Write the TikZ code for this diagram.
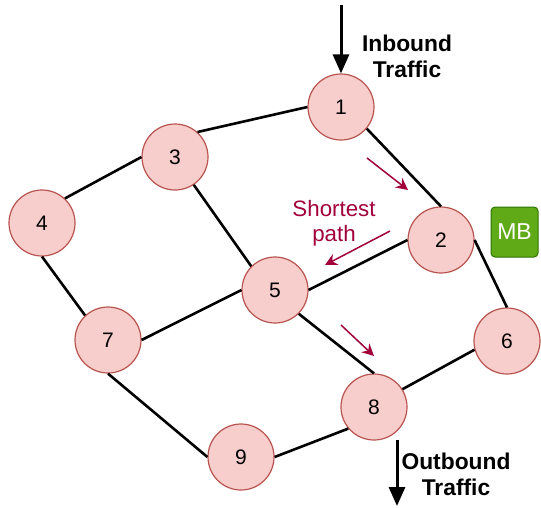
\documentclass[tikz,border=0pt]{standalone}
\usepackage{fontspec}
\setmainfont{Liberation Sans}
\usetikzlibrary{arrows.meta}
\definecolor{nodefill}{HTML}{F8CECC}
\definecolor{nodeline}{HTML}{B85450}
\definecolor{mbfill}{HTML}{60A917}
\definecolor{mbline}{HTML}{2D7600}
\definecolor{pathred}{HTML}{A2003A}
\begin{document}
\begin{tikzpicture}[x=1pt,y=-1pt,
  router/.style={circle, draw=nodeline, fill=nodefill, line width=1.2pt,
    minimum size=66pt, inner sep=0pt, font=\fontsize{21}{25}\selectfont},
  mbbox/.style={rectangle, rounded corners=4pt, draw=mbline, fill=mbfill,
    line width=1pt, minimum width=47pt, minimum height=50pt, inner sep=0pt,
    text=white, font=\fontsize{23}{26}\selectfont},
  link/.style={line width=2.6pt, black},
  flow/.style={line width=3pt, black, -{Triangle[width=16pt,length=19pt]}},
  hint/.style={line width=1.5pt, pathred, -{Stealth[width=12pt,length=12pt,inset=4pt]}},
  caption/.style={font=\fontsize{22.8}{26}\selectfont\bfseries, align=center, inner sep=0pt},
  note/.style={font=\fontsize{22.3}{25}\selectfont, text=pathred, align=center, inner sep=0pt}]

\useasboundingbox (0,0) rectangle (541,507);

% routers
\node[router] (n1) at (341,107) {1};
\node[router] (n2) at (441,240) {2};
\node[router] (n3) at (175,157) {3};
\node[router] (n4) at (42,223) {4};
\node[router] (n5) at (275,290) {5};
\node[router] (n6) at (507,341) {6};
\node[router] (n7) at (108,340) {7};
\node[router] (n8) at (374,407) {8};
\node[router] (n9) at (241,457) {9};

% middlebox
\node[mbbox] (mb) at (514.5,232) {MB};

% links
\draw[link] (n1.west) -- (n3.48);
\draw[link] (n3.west) -- (n4.47);
\draw[link] (n3.-56) -- (n5.135);
\draw[link] (n4.south) -- (n7.133);
\draw[link] (n7.east) -- (n5.west);
\draw[link] (n7.south) -- (n9.west);
\draw[link] (n9.east) -- (n8.220);
\draw[link] (n8.32) -- (n6.195);
\draw[link] (n2.east) -- (n6.north);
\draw[link] (n1.-40) -- (n2.north);
\draw[link] (n2.west) -- (n5.east);
\draw[link] (n5.-45) -- (n8.north);

% traffic in and out
\coordinate (inb) at (341,5);
\draw[flow] (inb) -- (n1.north);
\node[caption] (intext) at (407,56.5) {Inbound\\Traffic};

\coordinate (outs) at (397,440);
\coordinate (oute) at (397,506);
\draw[flow] (outs) -- (oute);
\node[caption] (outtext) at (456,474) {Outbound\\Traffic};

% shortest path hints
\node[note] (sp) at (334,223.5) {Shortest\\path};
\coordinate (h1s) at (367,158);
\coordinate (h1e) at (408,190);
\coordinate (h2s) at (390,231);
\coordinate (h2e) at (325,265);
\coordinate (h3s) at (341,325);
\coordinate (h3e) at (374,356);
\draw[hint] (h1s) -- (h1e);
\draw[hint] (h2s) -- (h2e);
\draw[hint] (h3s) -- (h3e);
\end{tikzpicture}
\end{document}
